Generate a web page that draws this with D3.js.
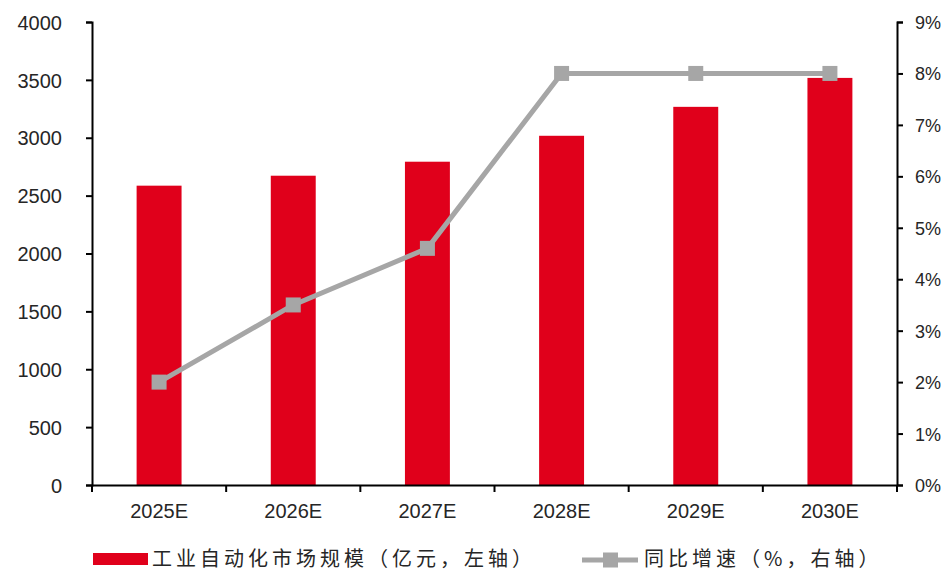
<!DOCTYPE html>
<html>
<head>
<meta charset="utf-8">
<script src="https://cdn.jsdelivr.net/npm/d3@7"></script>
<style>
  html, body { margin: 0; padding: 0; background: #fff; }
  svg { display: block; }
  .tick text { font-family: "Liberation Sans", Arial, sans-serif; font-size: 20px; fill: #262626; }
  .axis-right .tick text { font-size: 18px; }
  .legend text { font-family: "Noto Sans CJK SC", sans-serif; font-size: 20px; fill: #262626; letter-spacing: 4px; }
</style>
</head>
<body>
<svg id="chart" width="944" height="571"></svg>
<script>
// Market size (亿元) and YoY growth (%) by year
const categories = ["2025E", "2026E", "2027E", "2028E", "2029E", "2030E"];
const marketSize = [2586, 2672, 2793, 3017, 3267, 3517];
const growthRate = [2.0, 3.5, 4.6, 8.0, 8.0, 8.0];
const leftTicks = [0, 500, 1000, 1500, 2000, 2500, 3000, 3500, 4000];
const rightTicks = [0, 1, 2, 3, 4, 5, 6, 7, 8, 9];
const legendLabels = ["工业自动化市场规模（亿元，左轴）", "同比增速（%，右轴）"];

const svg = d3.select("#chart");
const margin = { left: 92, right: 47, top: 22, bottom: 86 };
const W = 944, H = 571;
const x0 = margin.left, x1 = W - margin.right;
const y0 = H - margin.bottom, y1 = margin.top;

const barColor = "#E0001B";
const lineColor = "#A6A6A6";

const x = d3.scaleBand().domain(categories).range([x0, x1]).paddingInner(0.665).paddingOuter(0.3325);
const xBand = d3.scaleBand().domain(categories).range([x0, x1]);
const yL = d3.scaleLinear().domain([0, 4000]).range([y0, y1]);
const yR = d3.scaleLinear().domain([0, 9]).range([y0, y1]);

// bars
svg.append("g").selectAll("rect").data(categories).join("rect")
  .attr("x", d => x(d))
  .attr("width", x.bandwidth())
  .attr("y", (d, i) => yL(marketSize[i]))
  .attr("height", (d, i) => y0 - yL(marketSize[i]))
  .attr("fill", barColor);

// growth line
const cx = d => xBand(d) + xBand.bandwidth() / 2;
const line = d3.line().x((d, i) => cx(categories[i])).y(d => yR(d));
svg.append("path").datum(growthRate)
  .attr("d", line)
  .attr("fill", "none")
  .attr("stroke", lineColor)
  .attr("stroke-width", 5)
  .attr("stroke-linejoin", "round");
svg.append("g").selectAll("rect").data(growthRate).join("rect")
  .attr("x", (d, i) => cx(categories[i]) - 7.5)
  .attr("y", d => yR(d) - 7.5)
  .attr("width", 15).attr("height", 15)
  .attr("fill", lineColor);

// axes
const styleAxis = g => {
  g.selectAll(".domain").attr("stroke", "#000").attr("stroke-width", 2);
  g.selectAll(".tick line").attr("stroke", "#000").attr("stroke-width", 2);
};
svg.append("g").attr("transform", `translate(${x0},0)`)
  .call(d3.axisLeft(yL).tickValues(leftTicks).tickSize(6).tickSizeOuter(6).tickPadding(24).tickFormat(d3.format("d")))
  .call(styleAxis)
  .call(g => g.selectAll(".tick text").attr("dy", "0.36em"));

svg.append("g").attr("class", "axis-right").attr("transform", `translate(${x1},0)`)
  .call(d3.axisRight(yR).tickValues(rightTicks).tickSize(6).tickSizeOuter(6).tickPadding(12).tickFormat(d => d + "%"))
  .call(styleAxis)
  .call(g => g.selectAll(".tick text").attr("dy", "0.36em"));

const xAxis = svg.append("g").attr("transform", `translate(0,${y0})`)
  .call(d3.axisBottom(xBand).tickSize(0).tickSizeOuter(0).tickPadding(19))
  .call(styleAxis);
xAxis.selectAll(".tick text").attr("dy", "0.71em");
// category boundary ticks
xAxis.append("g").selectAll("line").data(d3.range(categories.length + 1)).join("line")
  .attr("x1", i => x0 + i * xBand.step())
  .attr("x2", i => x0 + i * xBand.step())
  .attr("y1", 0).attr("y2", 7)
  .attr("stroke", "#000").attr("stroke-width", 2);

// legend
const lg = svg.append("g").attr("class", "legend");
const ly = 559;
lg.append("rect").attr("x", 93).attr("y", ly - 6).attr("width", 55).attr("height", 12).attr("fill", barColor);
lg.append("text").attr("x", 152).attr("y", ly).attr("dy", "0.35em").text(legendLabels[0]);
lg.append("line").attr("x1", 582).attr("x2", 638).attr("y1", ly + 1).attr("y2", ly + 1)
  .attr("stroke", lineColor).attr("stroke-width", 5);
lg.append("rect").attr("x", 603).attr("y", ly + 1 - 7.5).attr("width", 15).attr("height", 15).attr("fill", lineColor);
lg.append("text").attr("x", 644).attr("y", ly).attr("dy", "0.35em").text(legendLabels[1]);
</script>
</body>
</html>
